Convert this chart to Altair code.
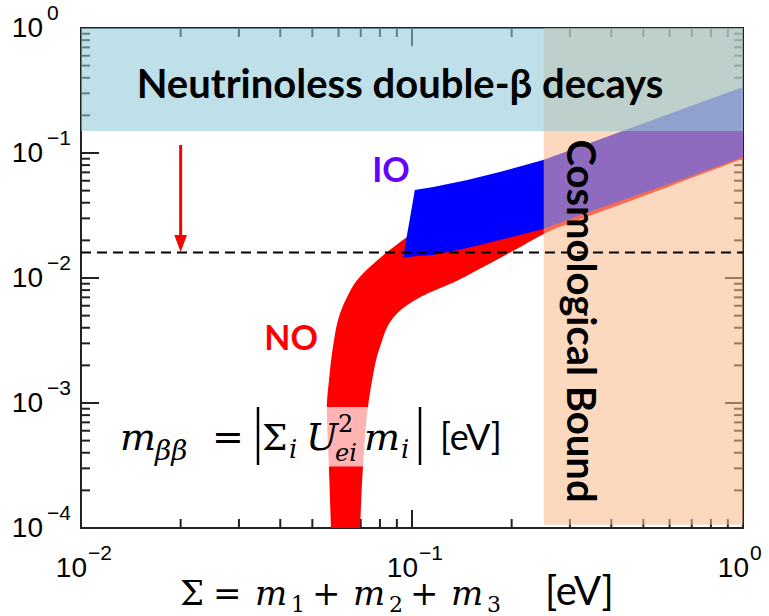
import altair as alt
import pandas as pd

# ---------------- data ----------------
# Normal ordering band: for each m_bb value, left (lower Sigma) and right (upper Sigma) edge
no_m = [1.0e-4, 3.1e-4, 9.3e-4, 1.5e-3, 2.8e-3, 5.2e-3, 7.0e-3, 9.6e-3, 1.27e-2, 1.68e-2,
        2.13e-2, 2.42e-2, 2.9e-2, 4.2e-2, 6.7e-2, 9.1e-2, 0.153, 0.29]
no_sigma_lo = [0.0569, 0.0561, 0.0553, 0.0561, 0.0577, 0.0606, 0.0636, 0.0682, 0.0757, 0.0858,
               0.0966, 0.104, 0.117, 0.150, 0.227, 0.37, 0.645, 1.0]
no_sigma_hi = [0.0697, 0.0711, 0.0736, 0.0757, 0.080, 0.0901, 0.1057, 0.1377, 0.1685, 0.2048,
               0.2402, 0.2649, 0.3174, 0.4653, 0.7413, 1.01, 1.72, 3.38]

# Inverted ordering band: for each Sigma, lower and upper m_bb
io_sigma = [0.094, 0.102, 0.116, 0.147, 0.184, 0.249, 0.37, 0.645, 1.0]
io_m_lo = [0.0145, 0.0149, 0.0153, 0.0174, 0.0201, 0.0247, 0.0363, 0.0608, 0.093]
io_m_hi = [0.0145, 0.0506, 0.0535, 0.0608, 0.0705, 0.0879, 0.129, 0.221, 0.337]

# Excluded regions
dbd_region = {"s1": [0.01], "s2": [1.0], "m1": [0.15], "m2": [1.0]}
cosmo_region = {"s1": [0.25], "s2": [1.0], "m1": [1.06e-4], "m2": [1.0]}
sensitivity_m = [0.016]
arrow = {"s": [0.02], "m1": [0.116], "m2": [0.021], "tip": [0.0189]}

# ticks
x_major = [0.01, 0.1, 1.0]
x_minor = [k * 10.0 ** e for e in (-2, -1) for k in range(2, 10)]
y_major = [1e-4, 1e-3, 1e-2, 1e-1, 1.0]
y_minor = [k * 10.0 ** e for e in (-4, -3, -2, -1) for k in range(2, 10)]
x_labels = [0.01, 0.1, 1.0]
x_exps = ["\u22122", "\u22121", "0"]
y_labels = [1e-4, 1e-3, 1e-2, 1e-1, 1.0]
y_exps = ["\u22124", "\u22123", "\u22122", "\u22121", "0"]

W, H = 662, 500
xs = alt.Scale(type="log", domain=[0.01, 1.0])
ys = alt.Scale(type="log", domain=[1e-4, 1.0])
TICK = "#222222"


def X(f):
    return alt.X(f, type="quantitative", scale=xs, axis=None, stack=None)


def Y(f):
    return alt.Y(f, type="quantitative", scale=ys, axis=None, stack=None)


layers = []

# ---- ticks (inside, under the bands) ----
def ticks_x(vals, L):
    d = pd.DataFrame({"v": vals})
    b = alt.Chart(d).mark_rule(color=TICK, strokeWidth=2).encode(
        x=X("v"), y=alt.value(H), y2=alt.value(H - L))
    t = alt.Chart(d).mark_rule(color=TICK, strokeWidth=2).encode(
        x=X("v"), y=alt.value(0), y2=alt.value(L))
    return [b, t]


def ticks_y(vals, L):
    d = pd.DataFrame({"v": vals})
    l = alt.Chart(d).mark_rule(color=TICK, strokeWidth=2).encode(
        y=Y("v"), x=alt.value(0), x2=alt.value(L))
    r = alt.Chart(d).mark_rule(color=TICK, strokeWidth=2).encode(
        y=Y("v"), x=alt.value(W), x2=alt.value(W - L))
    return [l, r]


layers += ticks_x(x_major, 18) + ticks_x(x_minor, 9)
layers += ticks_y(y_major, 18) + ticks_y(y_minor, 9)

# ---- bands ----
no_df = pd.DataFrame({"m": no_m, "lo": no_sigma_lo, "hi": no_sigma_hi})
layers.append(
    alt.Chart(no_df).mark_area(orient="horizontal", color="#FF0000", interpolate="monotone",
                               clip=True, opacity=1)
    .encode(y=Y("m"), x=X("lo"), x2="hi")
)
io_df = pd.DataFrame({"s": io_sigma, "lo": io_m_lo, "hi": io_m_hi})
layers.append(
    alt.Chart(io_df).mark_area(color="#0000FF", interpolate="linear", clip=True, opacity=1)
    .encode(x=X("s"), y=Y("lo"), y2="hi")
)

# ---- shaded regions ----
layers.append(
    alt.Chart(pd.DataFrame(cosmo_region)).mark_rect(color="#FABC8D", opacity=0.57)
    .encode(x=X("s1"), x2="s2", y=Y("m1"), y2="m2")
)
layers.append(
    alt.Chart(pd.DataFrame(dbd_region)).mark_rect(color="#90C9D7", opacity=0.575)
    .encode(x=X("s1"), x2="s2", y=Y("m1"), y2="m2")
)

# ---- dashed sensitivity line ----
layers.append(
    alt.Chart(pd.DataFrame({"m": sensitivity_m})).mark_rule(color="black", strokeWidth=2,
                                                            strokeDash=[10, 6])
    .encode(y=Y("m"), x=alt.value(0), x2=alt.value(W))
)

# ---- arrow ----
adf = pd.DataFrame(arrow)
layers.append(
    alt.Chart(adf).mark_rule(color="#FF0000", strokeWidth=3).encode(x=X("s"), y=Y("m1"), y2="m2")
)
layers.append(
    alt.Chart(adf).mark_point(shape="M-0.75,-1L0.75,-1L0,1Z", filled=True, color="#FF0000",
                              opacity=1, size=289)
    .encode(x=X("s"), y=Y("tip"))
)

# ---- translucent box behind formula ----
layers.append(
    alt.Chart(pd.DataFrame({"s1": [0.0151], "s2": [0.198], "m1": [3.1e-4], "m2": [9.3e-4]}))
    .mark_rect(color="white", opacity=0.7)
    .encode(x=X("s1"), x2="s2", y=Y("m1"), y2="m2")
)

# ---- region labels ----
def label(text, s, m, color, size, angle=0):
    return alt.Chart(pd.DataFrame({"s": [s], "m": [m], "t": [text]})).mark_text(
        font="Lato", fontWeight="bold", fontSize=size, color=color, align="center",
        baseline="alphabetic", angle=angle).encode(x=X("s"), y=Y("m"), text="t")


layers.append(label("Neutrinoless double-\u03b2 decays", 0.092, 0.275, "black", 40))
layers.append(label("IO", 0.0864, 0.0586, "#6600FF", 34))
layers.append(label("NO", 0.0431, 0.00265, "#FF0000", 34))
layers.append(label("Cosmological Bound", 0.294, 0.00453, "black", 40, angle=90))


# ---- formula / title pieces (pixel placement inside the plot area) ----
def piece(text, x, y, size, font="DejaVu Serif", italic=False):
    return alt.Chart(pd.DataFrame({"t": [text]})).mark_text(
        font=font, fontSize=size, fontStyle="italic" if italic else "normal",
        align="left", baseline="alphabetic", color="black").encode(
        x=alt.value(x), y=alt.value(y), text="t")


def bar(x, y1, y2):
    return alt.Chart(pd.DataFrame({"t": [0]})).mark_rule(color="black", strokeWidth=2.5).encode(
        x=alt.value(x), y=alt.value(y1), y2=alt.value(y2))


B = 422
layers += [
    piece("m", 39, B, 38, italic=True),
    piece("\u03b2\u03b2", 74, B + 10, 28, italic=True),
    piece("=", 131, B, 38),
    bar(177, B - 43, B + 15),
    piece("\u03a3", 181, B, 36),
    piece("i", 208, B + 8, 26, italic=True),
    piece("U", 225, B, 38, italic=True),
    piece("2", 257, B - 18, 24),
    piece("ei", 254, B + 11, 24, italic=True),
    piece("m", 283, B, 38, italic=True),
    piece("i", 320, B + 8, 26, italic=True),
    bar(339, B - 43, B + 15),
    piece("[eV]", 359, B, 36, font="Lato"),
]
T = 577
layers += [
    piece("\u03a3", 99, T, 34),
    piece("=", 132, T, 34),
    piece("m", 174, T, 34, italic=True),
    piece("1", 210, T + 7, 22),
    piece("+", 231, T, 34),
    piece("m", 272, T, 34, italic=True),
    piece("2", 308, T + 7, 22),
    piece("+", 329, T, 34),
    piece("m", 370, T, 34, italic=True),
    piece("3", 406, T + 7, 22),
    piece("[eV]", 464, T, 40, font="Lato"),
]

# ---- tick labels ----
xl = pd.DataFrame({"v": x_labels, "e": x_exps})
yl = pd.DataFrame({"v": y_labels, "e": y_exps})
LF = "Liberation Sans"
layers.append(alt.Chart(xl).mark_text(font=LF, fontSize=28, align="right", baseline="alphabetic",
                                      dx=6, color="black")
              .encode(x=X("v"), y=alt.value(H + 49), text=alt.value("10")))
layers.append(alt.Chart(xl).mark_text(font=LF, fontSize=21, align="left", baseline="alphabetic",
                                      dx=7, color="black")
              .encode(x=X("v"), y=alt.value(H + 32), text="e"))
layers.append(alt.Chart(yl).mark_text(font=LF, fontSize=28, align="right", baseline="middle",
                                      dy=1, color="black")
              .encode(y=Y("v"), x=alt.value(-38), text=alt.value("10")))
layers.append(alt.Chart(yl).mark_text(font=LF, fontSize=21, align="left", baseline="alphabetic",
                                      dy=-8, color="black")
              .encode(y=Y("v"), x=alt.value(-34), text="e"))

# ---- left & bottom frame lines on top ----
frame_axis = alt.Axis(domain=True, domainColor=TICK, domainWidth=2, ticks=False, labels=False,
                      title=None, grid=False, zindex=2)
layers.append(
    alt.Chart(pd.DataFrame({"s": [0.01], "m": [1e-4]})).mark_point(opacity=0)
    .encode(x=alt.X("s:Q", scale=xs, axis=frame_axis), y=alt.Y("m:Q", scale=ys, axis=frame_axis))
)

chart = alt.layer(*layers).properties(
    width=W, height=H,
    autosize=alt.AutoSizeParams(type="none"),
    padding={"left": 81, "top": 28, "right": 26, "bottom": 88},
    background="white",
).configure_view(stroke=TICK, strokeWidth=2)

chart.save("out.html", embed_options={"renderer": "svg", "actions": False})
